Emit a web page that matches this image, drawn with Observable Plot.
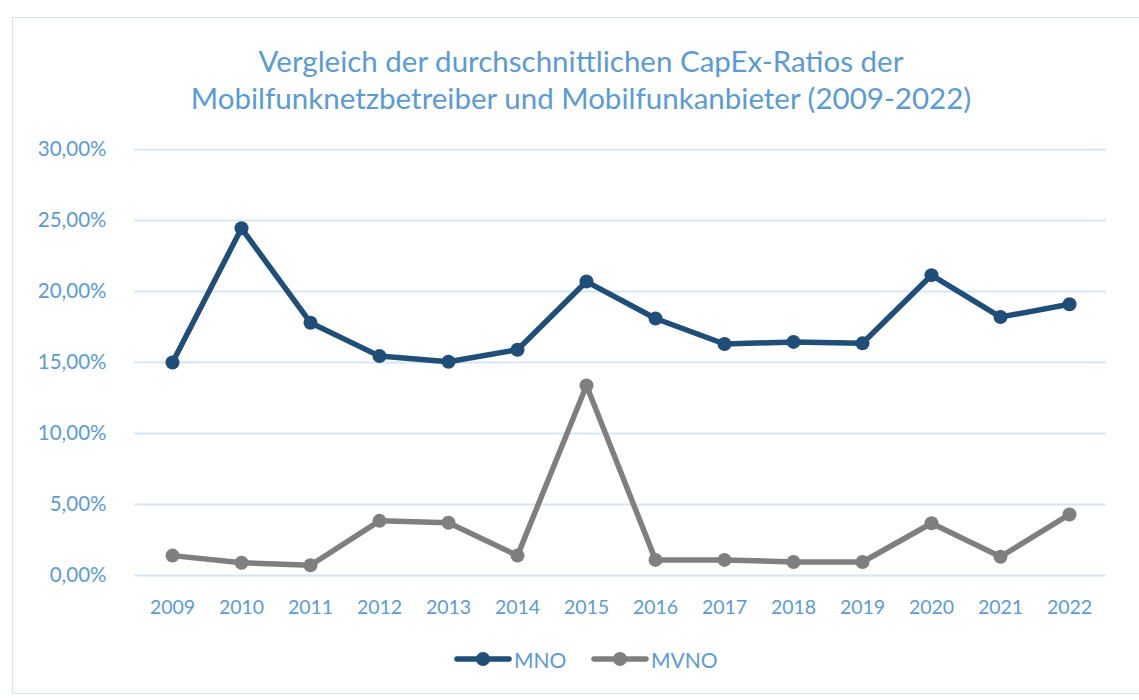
<!DOCTYPE html>
<html>
<head>
<meta charset="utf-8">
<script src="https://cdn.jsdelivr.net/npm/d3@7"></script>
<script src="https://cdn.jsdelivr.net/npm/@observablehq/plot@0.6"></script>
<style>
  html, body { margin: 0; padding: 0; background: #fff; }
  body { width: 1139px; height: 700px; position: relative; overflow: hidden; font-family: Lato, "Open Sans", sans-serif; }
  #frame { position: absolute; left: 12px; top: 17px; width: 1140px; height: 677px; border: 1px solid #d6e3f2; box-sizing: border-box; }
  #title { position: absolute; left: 0; top: 42px; width: 1162px; text-align: center; color: #5b9bd5; font-size: 29.5px; line-height: 37px; }
  #chart { position: absolute; left: 0; top: 130px; }
  #legend { position: absolute; left: 0; top: 645px; width: 1139px; height: 28px; }
  .item { position: absolute; top: 0; display: flex; align-items: center; color: #5b9bd5; font-size: 21px; }
  .item svg { display: block; }
</style>
</head>
<body>
<div id="frame"></div>
<div id="title">Vergleich der durchschnittlichen CapEx-Ratios der<br>Mobilfunknetzbetreiber und Mobilfunkanbieter (2009-2022)</div>
<div id="chart"></div>
<div id="legend"></div>
<script>
const years = ["2009","2010","2011","2012","2013","2014","2015","2016","2017","2018","2019","2020","2021","2022"];
const mno  = [15.0, 24.45, 17.8, 15.45, 15.05, 15.9, 20.7, 18.1, 16.3, 16.45, 16.35, 21.15, 18.2, 19.1];
const mvno = [1.4, 0.9, 0.72, 3.85, 3.72, 1.4, 13.38, 1.1, 1.1, 0.95, 0.95, 3.68, 1.32, 4.3];
const yTicks = [0, 5, 10, 15, 20, 25, 30];
const seriesNames = ["MNO", "MVNO"];
const seriesColors = ["#1f4e79", "#7f7f7f"];

const rows = [];
years.forEach((y, i) => {
  rows.push({year: y, value: mno[i], series: "MNO"});
  rows.push({year: y, value: mvno[i], series: "MVNO"});
});

const fmt = d => d.toFixed(2).replace(".", ",") + "%";

const chart = Plot.plot({
  width: 1139,
  height: 490,
  marginLeft: 134,
  marginRight: 33,
  marginTop: 19,
  marginBottom: 45,
  style: { fontFamily: "Lato, 'Open Sans', sans-serif", fontSize: "19px", color: "#5b9bd5", background: "transparent" },
  x: { type: "point", domain: years, padding: 0.5, label: null },
  y: { domain: [0, 30], ticks: yTicks, label: null, tickFormat: fmt },
  color: { domain: seriesNames, range: seriesColors },
  marks: [
    Plot.gridY(yTicks, { stroke: "#d6e6f6", strokeOpacity: 1, strokeWidth: 2 }),
    Plot.axisX({ tickSize: 0, tickPadding: 25, fill: "#5b9bd5", fontSize: 19.5 }),
    Plot.axisY(yTicks, { tickSize: 0, tickPadding: 28, fill: "#5b9bd5", fontSize: 20.5, tickFormat: fmt }),
    Plot.line(rows, { x: "year", y: "value", z: "series", stroke: "series", strokeWidth: 5.5, strokeLinejoin: "round", strokeLinecap: "round" }),
    Plot.dot(rows, { x: "year", y: "value", fill: "series", r: 7 })
  ]
});
document.getElementById("chart").appendChild(chart);

const legend = document.getElementById("legend");
const lefts = [454, 591];
seriesNames.forEach((name, i) => {
  const div = document.createElement("div");
  div.className = "item";
  div.style.left = lefts[i] + "px";
  div.innerHTML = `<svg width="58" height="28"><line x1="3" y1="14" x2="55" y2="14" stroke="${seriesColors[i]}" stroke-width="5.5" stroke-linecap="round"/><circle cx="29" cy="14" r="7" fill="${seriesColors[i]}"/></svg><span style="margin-left:2px">${name}</span>`;
  legend.appendChild(div);
});
</script>
</body>
</html>
